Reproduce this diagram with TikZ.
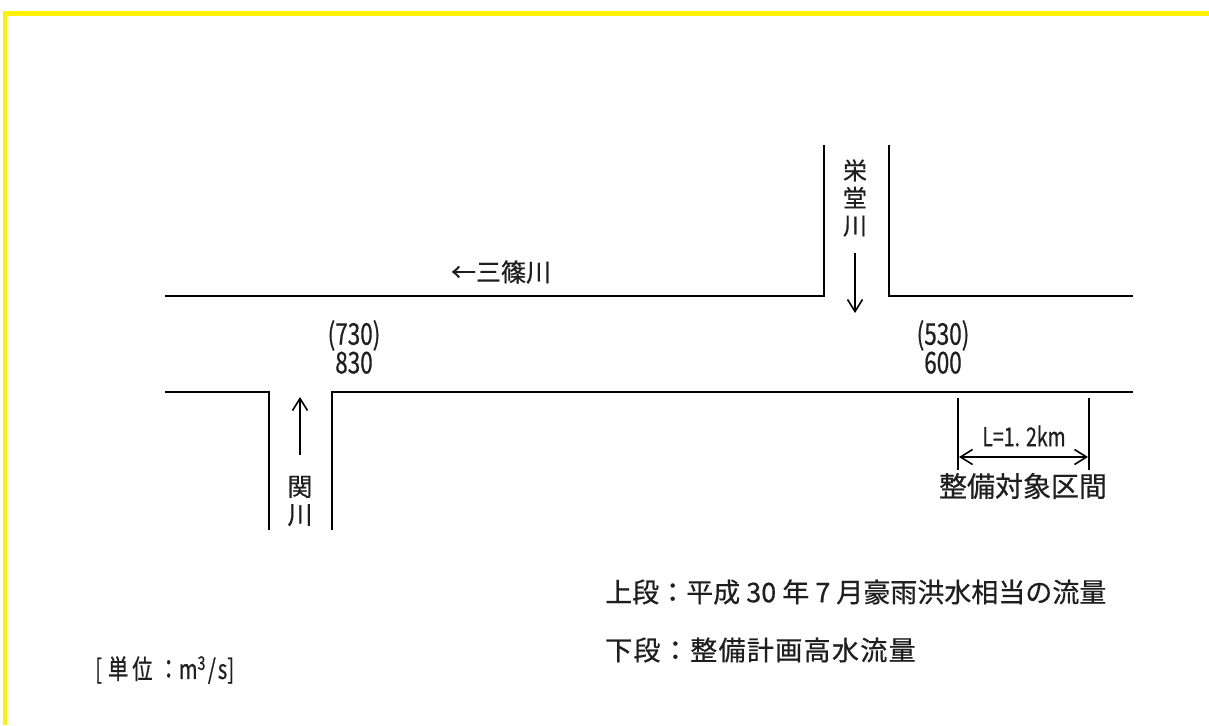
\documentclass[tikz,border=0pt]{standalone}
\usepackage{fontspec}
\setmainfont{Noto Sans CJK JP}[FakeBold=0.6]
\newfontfamily\narrowfont[FakeStretch=0.75,FakeBold=0.6]{Noto Sans CJK JP}
\usetikzlibrary{arrows.meta}
\tikzset{
  lbl/.style={inner sep=0pt, text=black!88},
  bank/.style={line width=2pt, line join=miter},
  flow/.style={line width=1.6pt, -{Straight Barb[length=12pt,width=15pt,line width=1.6pt]}},
  dim/.style={line width=1.6pt, {Straight Barb[length=12pt,width=15pt,line width=1.6pt]}-{Straight Barb[length=12pt,width=15pt,line width=1.6pt]}},
  tick/.style={line width=1.6pt}
}
\begin{document}
\begin{tikzpicture}[x=1pt,y=-1pt]
\useasboundingbox (0,0) rectangle (1209,725);
\fill[white] (0,0) rectangle (1209,725);
% yellow frame
\fill[yellow] (3,11) rectangle (1209,16);
\fill[yellow] (3,11) rectangle (7,725);
% bank coordinates
\coordinate (ulA) at (165,296); \coordinate (ulB) at (824,296); \coordinate (ulC) at (824,145);
\coordinate (urA) at (889,145); \coordinate (urB) at (889,296); \coordinate (urC) at (1133,296);
\coordinate (llA) at (165,392); \coordinate (llB) at (269,392); \coordinate (llC) at (269,530);
\coordinate (lrA) at (332,530); \coordinate (lrB) at (332,392); \coordinate (lrC) at (1133,392);
\draw[bank] (ulA) -- (ulB) -- (ulC);
\draw[bank] (urA) -- (urB) -- (urC);
\draw[bank] (llA) -- (llB) -- (llC);
\draw[bank] (lrA) -- (lrB) -- (lrC);
% flow arrows
\coordinate (e1) at (855,253); \coordinate (e2) at (855,313);
\draw[flow] (e1) -- (e2);
\coordinate (s1) at (300,455); \coordinate (s2) at (300,397);
\draw[flow] (s1) -- (s2);
% river names
\node[lbl, font=\fontsize{25}{25}\selectfont] (mis) at (501,272) {←三篠川};
\node[lbl, align=center, font=\fontsize{24}{27.5}\selectfont] (eid) at (855,198) {栄\\堂\\川};
\node[lbl, align=center, font=\fontsize{25}{28}\selectfont] (sek) at (300,501) {関\\川};
% discharges
\node[lbl, align=center, font=\narrowfont\fontsize{30}{22}\selectfont] (q1) at (354,347) {(730)\\830};
\node[lbl, align=center, font=\narrowfont\fontsize{30}{22}\selectfont] (q2) at (943,347) {(530)\\600};
% section dimension
\coordinate (d1t) at (958,398); \coordinate (d1b) at (958,470);
\coordinate (d2t) at (1089,398); \coordinate (d2b) at (1089,470);
\draw[tick] (d1t) -- (d1b);
\draw[tick] (d2t) -- (d2b);
\coordinate (da) at (959,457); \coordinate (db) at (1088,457);
\draw[dim] (da) -- (db);
\node[lbl, font=\narrowfont\fontsize{26}{26}\selectfont] (len) at (1024,436) {L=1.\hspace{6pt}2km};
\node[lbl, font=\fontsize{28}{28}\selectfont] (sec) at (1023,486) {整備対象区間};
% legend
\node[lbl, anchor=west, font=\fontsize{27}{27}\selectfont] (leg1) at (605,592) {上段：平成 30 年 7 月豪雨洪水相当の流量};
\node[lbl, anchor=west, font=\fontsize{27}{27}\selectfont\addfontfeature{LetterSpace=5}] (leg2) at (605,650) {下段：整備計画高水流量};
\node[lbl, anchor=west, font=\narrowfont\fontsize{27}{27}\selectfont] (unit) at (95,670) {[\hspace{6pt}単\hspace{4pt}位\hspace{6pt}：m\textsuperscript{3}\hspace{2pt}/\hspace{2pt}s]};
\end{tikzpicture}
\end{document}
